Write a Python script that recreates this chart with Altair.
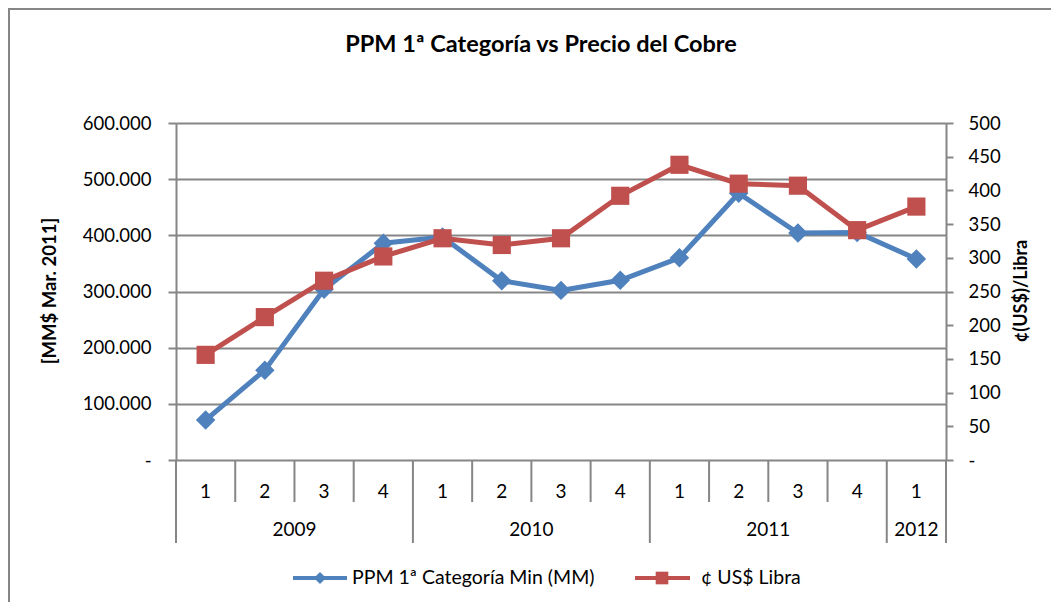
import altair as alt
import pandas as pd

# ---- data ----
quarters = ["1", "2", "3", "4", "1", "2", "3", "4", "1", "2", "3", "4", "1"]
years = ["2009", "2009", "2009", "2009", "2010", "2010", "2010", "2010",
         "2011", "2011", "2011", "2011", "2012"]
ppm = [71000, 160000, 304000, 386000, 397000, 319000, 302000, 320000,
       360000, 475000, 404000, 405000, 358000]
cobre = [156, 212, 266, 302, 329, 319, 329, 392, 438, 410, 407, 341, 376]
series_names = ["PPM 1ª Categoría Min (MM)", "¢ US$ Libra"]
chart_title = "PPM 1ª Categoría vs Precio del Cobre"
left_title = "[MM$ Mar. 2011]"
right_title = "¢(US$)/Libra"

BLUE = "#4F81BD"
RED = "#C0504D"
GRAY = "#868686"
FONT = "Lato"

n = len(quarters)
df = pd.DataFrame({
    "idx": list(range(n)),
    "quarter": quarters,
    "year": years,
    "ppm": ppm,
    "cobre": cobre,
})
df["pos"] = df["idx"] + 0.5

# category boundaries (derived from the category arrays)
bounds = pd.DataFrame({
    "b": list(range(n + 1)),
    "long": [quarters[i] == "1" for i in range(n)] + [True],
})

xscale = alt.Scale(domain=[0, n], nice=False, zero=False)
xaxis = alt.Axis(labels=False, ticks=False, grid=False, title=None,
                 domainColor=GRAY, domainWidth=2)
X = alt.X("pos:Q", scale=xscale, axis=xaxis)

base = alt.Chart(df)

left_axis = alt.Axis(
    values=[0, 100000, 200000, 300000, 400000, 500000, 600000],
    labelExpr="datum.value == 0 ? '-' : format(datum.value / 1000, 'd') + '.000'",
    title=None, grid=True, gridColor=GRAY, gridWidth=2,
    domainColor=GRAY, domainWidth=2, tickColor=GRAY, tickWidth=2, tickSize=8,
    labelPadding=17, labelFontSize=18.5, labelFont=FONT, labelColor="#000000",
)
right_axis = alt.Axis(
    orient="right",
    values=list(range(0, 501, 50)),
    labelExpr="datum.value == 0 ? '-' : datum.label",
    title=None, grid=False,
    domainColor=GRAY, domainWidth=2, tickColor=GRAY, tickWidth=2, tickSize=7,
    labelPadding=15, labelFontSize=18.5, labelFont=FONT, labelColor="#000000",
)

yl = alt.Y("ppm:Q", scale=alt.Scale(domain=[0, 600000], nice=False), axis=left_axis)
yr = alt.Y("cobre:Q", scale=alt.Scale(domain=[0, 500], nice=False), axis=right_axis)

blue = alt.layer(
    base.mark_line(color=BLUE, strokeWidth=5).encode(x=X, y=yl),
    base.mark_point(shape="diamond", filled=True, opacity=1, color=BLUE, size=380).encode(x=X, y=yl),
)
red = alt.layer(
    base.mark_line(color=RED, strokeWidth=5).encode(x=X, y=yr),
    base.mark_point(shape="square", filled=True, opacity=1, color=RED, size=330).encode(x=X, y=yr),
)

Xn = alt.X("pos:Q", scale=xscale, axis=None)

# category separators
bch = alt.Chart(bounds)
sep_short = bch.transform_filter("!datum.long").mark_rule(color=GRAY, strokeWidth=2).encode(
    x=alt.X("b:Q", scale=xscale, axis=None), y=alt.value(337), y2=alt.value(379))
sep_long = bch.transform_filter("datum.long").mark_rule(color=GRAY, strokeWidth=2).encode(
    x=alt.X("b:Q", scale=xscale, axis=None), y=alt.value(337), y2=alt.value(420))

q_labels = base.mark_text(font=FONT, fontSize=19, color="#000000", baseline="middle").encode(
    x=Xn, y=alt.value(369), text="quarter:N")
y_labels = base.transform_aggregate(center="mean(pos)", groupby=["year"]).mark_text(
    font=FONT, fontSize=19, color="#000000", baseline="middle").encode(
    x=alt.X("center:Q", scale=xscale, axis=None), y=alt.value(407), text="year:N")

one = alt.Chart(pd.DataFrame({"t": [chart_title]}))
title = one.mark_text(font=FONT, fontSize=23.5, fontWeight="bold", color="#000000",
                      baseline="middle", align="center").encode(
    x=alt.value(365), y=alt.value(-78), text=alt.value(chart_title))
lt = one.mark_text(font=FONT, fontSize=18.5, fontWeight="bold", color="#000000", angle=270,
                   baseline="middle", align="center").encode(
    x=alt.value(-126), y=alt.value(168), text=alt.value(left_title))
rt = one.mark_text(font=FONT, fontSize=18, fontWeight="bold", color="#000000", angle=270,
                   baseline="middle", align="center").encode(
    x=alt.value(846), y=alt.value(168), text=alt.value(right_title))

# outer chart-area border (top and left edges visible)
border_top = one.mark_rule(color=GRAY, strokeWidth=2).encode(
    x=alt.value(-168), x2=alt.value(880), y=alt.value(-114))
border_left = one.mark_rule(color=GRAY, strokeWidth=2).encode(
    x=alt.value(-167), y=alt.value(-115), y2=alt.value(480))

# legend
LY = 455
leg = []
leg.append(one.mark_rule(color=BLUE, strokeWidth=4).encode(
    x=alt.value(117), x2=alt.value(171), y=alt.value(LY)))
leg.append(one.mark_point(shape="diamond", filled=True, opacity=1, color=BLUE, size=150).encode(
    x=alt.value(144), y=alt.value(LY)))
leg.append(one.mark_text(font=FONT, fontSize=19.5, color="#000000", align="left", baseline="middle").encode(
    x=alt.value(176), y=alt.value(LY), text=alt.value(series_names[0])))
leg.append(one.mark_rule(color=RED, strokeWidth=4).encode(
    x=alt.value(459), x2=alt.value(514), y=alt.value(LY)))
leg.append(one.mark_point(shape="square", filled=True, opacity=1, color=RED, size=160).encode(
    x=alt.value(486), y=alt.value(LY)))
leg.append(one.mark_text(font=FONT, fontSize=19.5, color="#000000", align="left", baseline="middle").encode(
    x=alt.value(525), y=alt.value(LY), text=alt.value(series_names[1])))

chart = alt.layer(
    blue, red, sep_short, sep_long, q_labels, y_labels, title, lt, rt,
    border_top, border_left, *leg
).resolve_scale(y="independent").properties(
    width=770, height=337,
    autosize=alt.AutoSizeParams(type="none"),
    padding={"left": 168, "top": 115, "right": 105, "bottom": 142},
    background="white",
).configure_view(stroke=None).configure(font=FONT)

chart.save("out.html", embed_options={"renderer": "svg", "actions": False})
